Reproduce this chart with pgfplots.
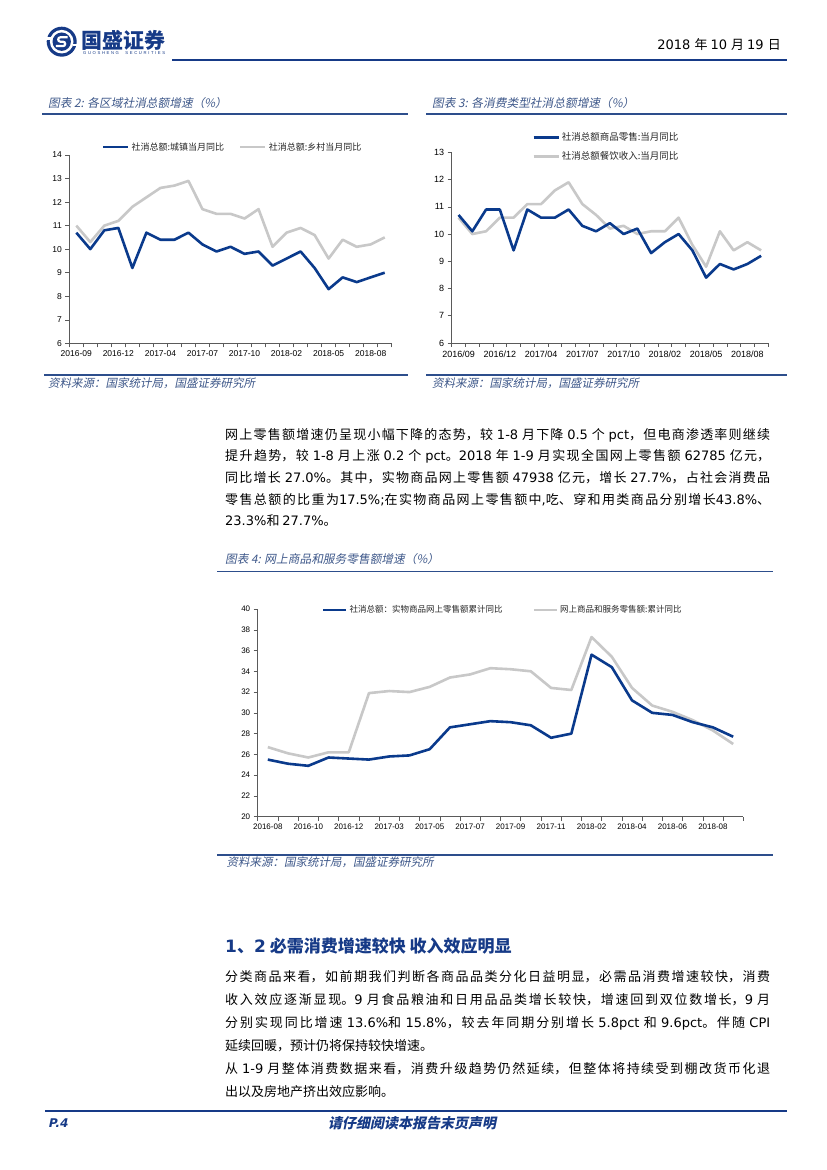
\documentclass[border=0pt]{standalone}
\usepackage{fontspec}
\usepackage{pgfplots}
\pgfplotsset{compat=1.18}
\usepackage{pgfplotstable}
\setmainfont{Liberation Sans}
\newfontfamily\cjk{Noto Sans CJK SC}
\newfontfamily\cjkit[FakeSlant=0.2]{Noto Sans CJK SC}
\newfontfamily\latf{DejaVu Sans}
\newfontfamily\latit[FakeSlant=0.2]{DejaVu Sans}
\XeTeXlinebreaklocale "zh"
\XeTeXlinebreakskip=0pt plus 2pt

\definecolor{navy}{RGB}{22,58,135}
\definecolor{serblue}{RGB}{10,58,140}
\definecolor{sergray}{RGB}{200,200,200}
\definecolor{ttl}{RGB}{62,88,138}
\definecolor{rulec}{RGB}{45,78,140}
\definecolor{axg}{RGB}{90,90,90}

\newcommand\La[1]{{\latf #1}}
\newcommand\bodyfont{\cjk\fontsize{13}{15}\selectfont}
\newcommand\jl[2]{\node[anchor=west, inner sep=0pt, text width=545pt, align=justify] at (225,{1170-#1}) {\bodyfont\tolerance=10000\parfillskip=0pt\relax #2\par};}
\newcommand\pl[2]{\node[anchor=west, inner sep=0pt] at (225,{1170-#1}) {\bodyfont #2};}

\pgfplotstableread{
i a b
0 10.7 11.0
1 10.0 10.3
2 10.8 11.0
3 10.9 11.2
4 9.2 11.8
5 10.7 12.2
6 10.4 12.6
7 10.4 12.7
8 10.7 12.9
9 10.2 11.7
10 9.9 11.5
11 10.1 11.5
12 9.8 11.3
13 9.9 11.7
14 9.3 10.1
15 9.6 10.7
16 9.9 10.9
17 9.2 10.6
18 8.3 9.6
19 8.8 10.4
20 8.6 10.1
21 8.8 10.2
22 9.0 10.5
}\tabA

\pgfplotstableread{
i a b
0 10.7 10.6
1 10.1 10.0
2 10.9 10.1
3 10.9 10.6
4 9.4 10.6
5 10.9 11.1
6 10.6 11.1
7 10.6 11.6
8 10.9 11.9
9 10.3 11.1
10 10.1 10.7
11 10.4 10.2
12 10.0 10.3
13 10.2 10.0
14 9.3 10.1
15 9.7 10.1
16 10.0 10.6
17 9.4 9.6
18 8.4 8.8
19 8.9 10.1
20 8.7 9.4
21 8.9 9.7
22 9.2 9.4
}\tabB

\pgfplotstableread{
i a b
0 25.5 26.7
1 25.1 26.1
2 24.9 25.7
3 25.7 26.2
4 25.6 26.2
5 25.5 31.9
6 25.8 32.1
7 25.9 32.0
8 26.5 32.5
9 28.6 33.4
10 28.9 33.7
11 29.2 34.3
12 29.1 34.2
13 28.8 34.0
14 27.6 32.4
15 28.0 32.2
16 35.6 37.3
17 34.4 35.4
18 31.2 32.4
19 30.0 30.7
20 29.8 30.1
21 29.1 29.3
22 28.6 28.3
23 27.7 27.0
}\tabC

\pgfplotsset{
  sb/.style={color=serblue, line width=2.6pt, mark=none, line join=round},
  sg/.style={color=sergray, line width=2.6pt, mark=none, line join=round},
  pch/.style={
    scale only axis, anchor=south west,
    axis x line*=bottom, axis y line*=left,
    axis line style={draw=axg, line width=0.6pt, -},
    tick align=outside, major tick length=4pt, minor tick length=4pt,
    major x tick style={draw=none},
    minor x tick style={draw=axg, line width=0.5pt},
    major y tick style={draw=axg, line width=0.5pt},
    tick label style={font=\fontsize{8.5}{10}\selectfont, text=black},
    /pgf/number format/assume math mode=true,
    legend style={draw=none, fill=none, inner sep=0pt, anchor=west, font=\cjk\fontsize{9}{11}\selectfont, text=black!85},
    legend cell align=left,
    legend image code/.code={\draw[##1] (0pt,0pt) -- (25pt,0pt);},
    clip=false,
  }
}

\begin{document}
\begin{tikzpicture}[x=1pt,y=1pt]
\useasboundingbox (0,0) rectangle (827,1170);
\fill[white] (0,0) rectangle (827,1170);

% ---------- header ----------
\begin{scope}[shift={(61.7,1128.3)}]
  \fill[navy] (0,0) circle (15);
  \fill[white] (0,0) circle (11.8);
  \fill[navy] (0,0) circle (9.2);
  \draw[white, line width=2.2pt] (5.8,4.4) -- (-1.3,4.4) arc[start angle=90, end angle=270, radius=2.2] -- (1.3,0) arc[start angle=90, end angle=-90, radius=2.2] -- (-5.8,-4.4);
  \fill[white] (-15.5,2) rectangle (-11,4.5);
  \fill[white] (11,-4.5) rectangle (15.5,-2);
\end{scope}
\node[anchor=west, inner sep=0, text=navy] at (81.7,{1170-40}) {\cjk\bfseries\fontsize{21}{23}\selectfont 国盛证券};
\node[anchor=west, inner sep=0, text=navy] at (83,{1170-52.7}) {\makebox[82pt][s]{\fontsize{4.2}{5}\selectfont G U O S H E N G\hspace{5pt plus 2pt}S E C U R I T I E S}};
\node[anchor=east, inner sep=0] at (781,{1170-45}) {\fontsize{13}{15}\selectfont\latf 2018 \cjk 年 \latf 10 \cjk 月 \latf 19 \cjk 日};
\draw[navy, line width=2pt] (172,{1170-60.5}) -- (787,{1170-60.5});

% ---------- chart titles and rules ----------
\node[anchor=west, inner sep=0, text=ttl] at (48,{1170-103.3}) {\cjkit\fontsize{11.7}{13}\selectfont 图表 2: 各区域社消总额增速（\%）};
\node[anchor=west, inner sep=0, text=ttl] at (432,{1170-103.3}) {\cjkit\fontsize{11.7}{13}\selectfont 图表 3: 各消费类型社消总额增速（\%）};
\draw[rulec, line width=1.3pt] (42,{1170-114}) -- (408,{1170-114});
\draw[rulec, line width=1.3pt] (426,{1170-114}) -- (787,{1170-114});
\draw[rulec, line width=1.3pt] (44,{1170-375}) -- (408,{1170-375});
\draw[rulec, line width=1.3pt] (426,{1170-375}) -- (787,{1170-375});
\node[anchor=west, inner sep=0, text=ttl] at (48,{1170-383.5}) {\cjkit\fontsize{11.5}{13}\selectfont 资料来源：国家统计局，国盛证券研究所};
\node[anchor=west, inner sep=0, text=ttl] at (432,{1170-383.5}) {\cjkit\fontsize{11.5}{13}\selectfont 资料来源：国家统计局，国盛证券研究所};

% ---------- chart 2 ----------
\begin{axis}[pch, at={(69.3pt,826.7pt)}, width=322.4pt, height=188.3pt,
  xmin=-0.5, xmax=22.5, ymin=6, ymax=14, ytick={6,...,14},
  xtick={0,3,...,21},
  xticklabels={2016-09,2016-12,2017-04,2017-07,2017-10,2018-02,2018-05,2018-08},
  minor xtick={-0.5,0.5,...,22.5},
  legend columns=2,
  legend style={at={(0.101,1.0425)}, /tikz/every even column/.append style={column sep=13pt}}]
\addlegendimage{sb}\addlegendentry{社消总额:城镇当月同比}
\addlegendimage{sg}\addlegendentry{社消总额:乡村当月同比}
\addplot[sg, forget plot] table[x=i,y=b]{\tabA};
\addplot[sb, forget plot] table[x=i,y=a]{\tabA};
\end{axis}

% ---------- chart 3 ----------
\begin{axis}[pch, at={(451.7pt,827pt)}, width=316.3pt, height=190.7pt,
  xmin=-0.5, xmax=22.5, ymin=6, ymax=13, ytick={6,...,13},
  xtick={0,3,...,21},
  xticklabels={2016/09,2016/12,2017/04,2017/07,2017/10,2018/02,2018/05,2018/08},
  minor xtick={-0.5,0.5,...,22.5},
  tick label style={font=\fontsize{9}{10}\selectfont},
  legend columns=1,
  legend style={at={(0.254,1.028)}, row sep=5pt, font=\cjk\fontsize{9.5}{11}\selectfont}]
\addlegendimage{sb}\addlegendentry{社消总额商品零售:当月同比}
\addlegendimage{sg}\addlegendentry{社消总额餐饮收入:当月同比}
\addplot[sg, forget plot] table[x=i,y=b]{\tabB};
\addplot[sb, forget plot] table[x=i,y=a]{\tabB};
\end{axis}

% ---------- paragraph 1 ----------
\jl{435}{网上零售额增速仍呈现小幅下降的态势，较 \La{1-8} 月下降 \La{0.5} 个 \La{pct}，但电商渗透率则继续}
\jl{456.5}{提升趋势，较 \La{1-8} 月上涨 \La{0.2} 个 \La{pct}。\La{2018} 年 \La{1-9} 月实现全国网上零售额 \La{62785} 亿元，}
\jl{478}{同比增长 \La{27.0\%}。其中，实物商品网上零售额 \La{47938} 亿元，增长 \La{27.7\%}，占社会消费品}
\jl{499.5}{零售总额的比重为\La{17.5\%;}在实物商品网上零售额中\La{,}吃、穿和用类商品分别增长\La{43.8\%}、}
\pl{521}{\La{23.3\%}和 \La{27.7\%}。}

% ---------- chart 4 ----------
\node[anchor=west, inner sep=0, text=ttl] at (225,{1170-559}) {\cjkit\fontsize{11.7}{13}\selectfont 图表 4: 网上商品和服务零售额增速（\%）};
\draw[rulec, line width=1.3pt] (217,{1170-571.7}) -- (773,{1170-571.7});
\draw[rulec, line width=1.3pt] (217,{1170-855}) -- (773,{1170-855});
\node[anchor=west, inner sep=0, text=ttl] at (226.5,{1170-862}) {\cjkit\fontsize{11.5}{13}\selectfont 资料来源：国家统计局，国盛证券研究所};

\begin{axis}[pch, at={(257.7pt,353.3pt)}, width=485.6pt, height=207.7pt,
  xmin=-0.5, xmax=23.5, ymin=20, ymax=40, ytick={20,22,...,40},
  xtick={0,2,...,22},
  xticklabels={2016-08,2016-10,2016-12,2017-03,2017-05,2017-07,2017-09,2017-11,2018-02,2018-04,2018-06,2018-08},
  minor xtick={-0.5,0.5,...,23.5},
  tick label style={font=\fontsize{8}{10}\selectfont},
  legend columns=2,
  legend image code/.code={\draw[#1] (0pt,0pt) -- (23pt,0pt);},
  legend style={at={(0.132,0.995)}, font=\cjk\fontsize{8.5}{10}\selectfont, /tikz/every even column/.append style={column sep=28pt}}]
\addlegendimage{sb}\addlegendentry{社消总额：实物商品网上零售额累计同比}
\addlegendimage{sg}\addlegendentry{网上商品和服务零售额:累计同比}
\addplot[sg, forget plot] table[x=i,y=b]{\tabC};
\addplot[sb, forget plot] table[x=i,y=a]{\tabC};
\end{axis}

% ---------- section 1.2 ----------
\node[anchor=west, inner sep=0, text=navy] at (225,{1170-946}) {\cjk\bfseries\fontsize{17}{19}\selectfont {\latf\bfseries 1}、{\latf\bfseries 2} 必需消费增速较快 收入效应明显};
\jl{977}{分类商品来看，如前期我们判断各商品品类分化日益明显，必需品消费增速较快，消费}
\jl{1000}{收入效应逐渐显现。\La{9} 月食品粮油和日用品品类增长较快，增速回到双位数增长，\La{9} 月}
\jl{1023}{分别实现同比增速 \La{13.6\%}和 \La{15.8\%}，较去年同期分别增长 \La{5.8pct} 和 \La{9.6pct}。伴随 \La{CPI}}
\pl{1046}{延续回暖，预计仍将保持较快增速。}
\jl{1069}{从 \La{1-9} 月整体消费数据来看，消费升级趋势仍然延续，但整体将持续受到棚改货币化退}
\pl{1092}{出以及房地产挤出效应影响。}

% ---------- footer ----------
\draw[navy, line width=2.2pt] (45,{1170-1111}) -- (787,{1170-1111});
\node[anchor=west, inner sep=0, text=navy] at (48,{1170-1123}) {\latit\bfseries\fontsize{12}{14}\selectfont P.4};
\node[inner sep=0, text=navy] at (412,{1170-1123}) {\cjkit\bfseries\fontsize{14}{16}\selectfont 请仔细阅读本报告末页声明};
\end{tikzpicture}
\end{document}
